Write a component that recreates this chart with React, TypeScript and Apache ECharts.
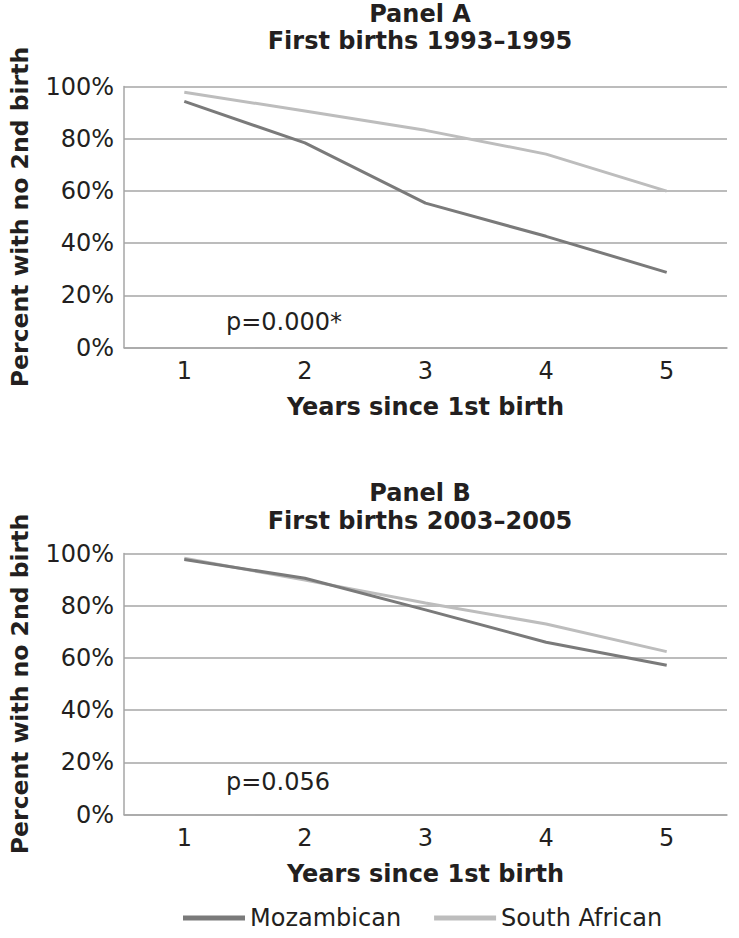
import { useEffect, useRef } from 'react';
import * as echarts from 'echarts';

const years = ['1', '2', '3', '4', '5'];
const seriesNames = ['Mozambican', 'South African'];
const panelAMozambican = [94.3, 78.4, 55.3, 42.6, 28.8];
const panelASouthAfrican = [97.8, 90.6, 83.2, 74.1, 59.9];
const panelBMozambican = [97.7, 90.5, 78.4, 66.0, 57.2];
const panelBSouthAfrican = [98.2, 89.8, 81.0, 73.0, 62.4];
const panelTitles = [
  ['Panel A', 'First births 1993–1995'],
  ['Panel B', 'First births 2003–2005'],
];
const pValues = ['p=0.000*', 'p=0.056'];
const xAxisTitle = 'Years since 1st birth';
const yAxisTitle = 'Percent with no 2nd birth';

const FONT = 'DejaVu Sans';
const TEXT = '#231f20';
const GRIDC = '#a6a6a6';
const COLORS = ['#7a7a7a', '#bdbdbd'];

export default function App() {
  const ref = useRef<HTMLDivElement>(null);
  useEffect(() => {
    if (!ref.current) return;
    const chart = echarts.init(ref.current, undefined, { renderer: 'svg' });
    const grids = [
      { left: 109, width: 618, top: 86.5, height: 261 },
      { left: 109, width: 618, top: 553.5, height: 261 },
    ];
    const xAxes = grids.map((_, i) => ({
      type: 'category',
      gridIndex: i,
      data: years,
      boundaryGap: true,
      axisTick: { show: false },
      axisLine: { show: true, lineStyle: { color: GRIDC, width: 1.5 } },
      axisLabel: { fontFamily: FONT, fontSize: 24, color: TEXT, margin: 11.5 },
      name: xAxisTitle,
      nameLocation: 'middle',
      nameGap: 47.5,
      nameTextStyle: { fontFamily: FONT, fontSize: 24, fontWeight: 'bold', color: TEXT },
    }));
    const yAxes = grids.map((_, i) => ({
      type: 'value',
      gridIndex: i,
      min: 0,
      max: 100,
      interval: 20,
      axisTick: { show: false },
      axisLine: { show: true, lineStyle: { color: GRIDC, width: 1.5 } },
      splitLine: { show: true, lineStyle: { color: GRIDC, width: 1.5 } },
      axisLabel: { fontFamily: FONT, fontSize: 24, color: TEXT, margin: 10, formatter: '{value}%' },
      name: yAxisTitle,
      nameLocation: 'middle',
      nameGap: 92,
      nameTextStyle: { fontFamily: FONT, fontSize: 23.5, fontWeight: 'bold', color: TEXT },
    }));
    const panels = [
      [panelAMozambican, panelASouthAfrican],
      [panelBMozambican, panelBSouthAfrican],
    ];
    const series: any[] = [];
    panels.forEach((p, gi) => {
      p.forEach((data, si) => {
        series.push({
          type: 'line',
          name: seriesNames[si],
          xAxisIndex: gi,
          yAxisIndex: gi,
          data,
          showSymbol: false,
          symbol: 'none',
          lineStyle: { color: COLORS[si], width: 3 },
          itemStyle: { color: COLORS[si] },
          z: si === 0 ? 3 : 2,
        });
      });
    });
    const titleY = [[13.5, 41], [492.5, 521]];
    const pY = [322, 782];
    const graphic: any[] = [];
    panelTitles.forEach((lines, i) => {
      lines.forEach((t, j) => {
        graphic.push({
          type: 'text',
          x: 420,
          y: titleY[i][j],
          style: {
            text: t,
            fontFamily: FONT,
            fontSize: 24,
            fontWeight: 'bold',
            fill: TEXT,
            align: 'center',
            verticalAlign: 'middle',
          },
        });
      });
      graphic.push({
        type: 'text',
        x: 226,
        y: pY[i],
        style: {
          text: pValues[i],
          fontFamily: FONT,
          fontSize: 24,
          fill: TEXT,
          align: 'left',
          verticalAlign: 'middle',
        },
      });
    });
    chart.setOption({
      animation: false,
      backgroundColor: '#ffffff',
      grid: grids,
      xAxis: xAxes,
      yAxis: yAxes,
      series,
      graphic,
      legend: {
        data: seriesNames.map((n, i) => ({ name: n, icon: 'rect', itemStyle: { color: COLORS[i] } })),
        left: 178,
        top: 901,
        itemWidth: 62,
        itemHeight: 5,
        itemGap: 33,
        textStyle: { fontFamily: FONT, fontSize: 24, color: TEXT },
      },
    });
    return () => chart.dispose();
  }, []);
  return (
    <div
      ref={ref}
      style={{ position: 'fixed', left: 0, top: 0, width: 739, height: 938, background: '#fff' }}
    />
  );
}
